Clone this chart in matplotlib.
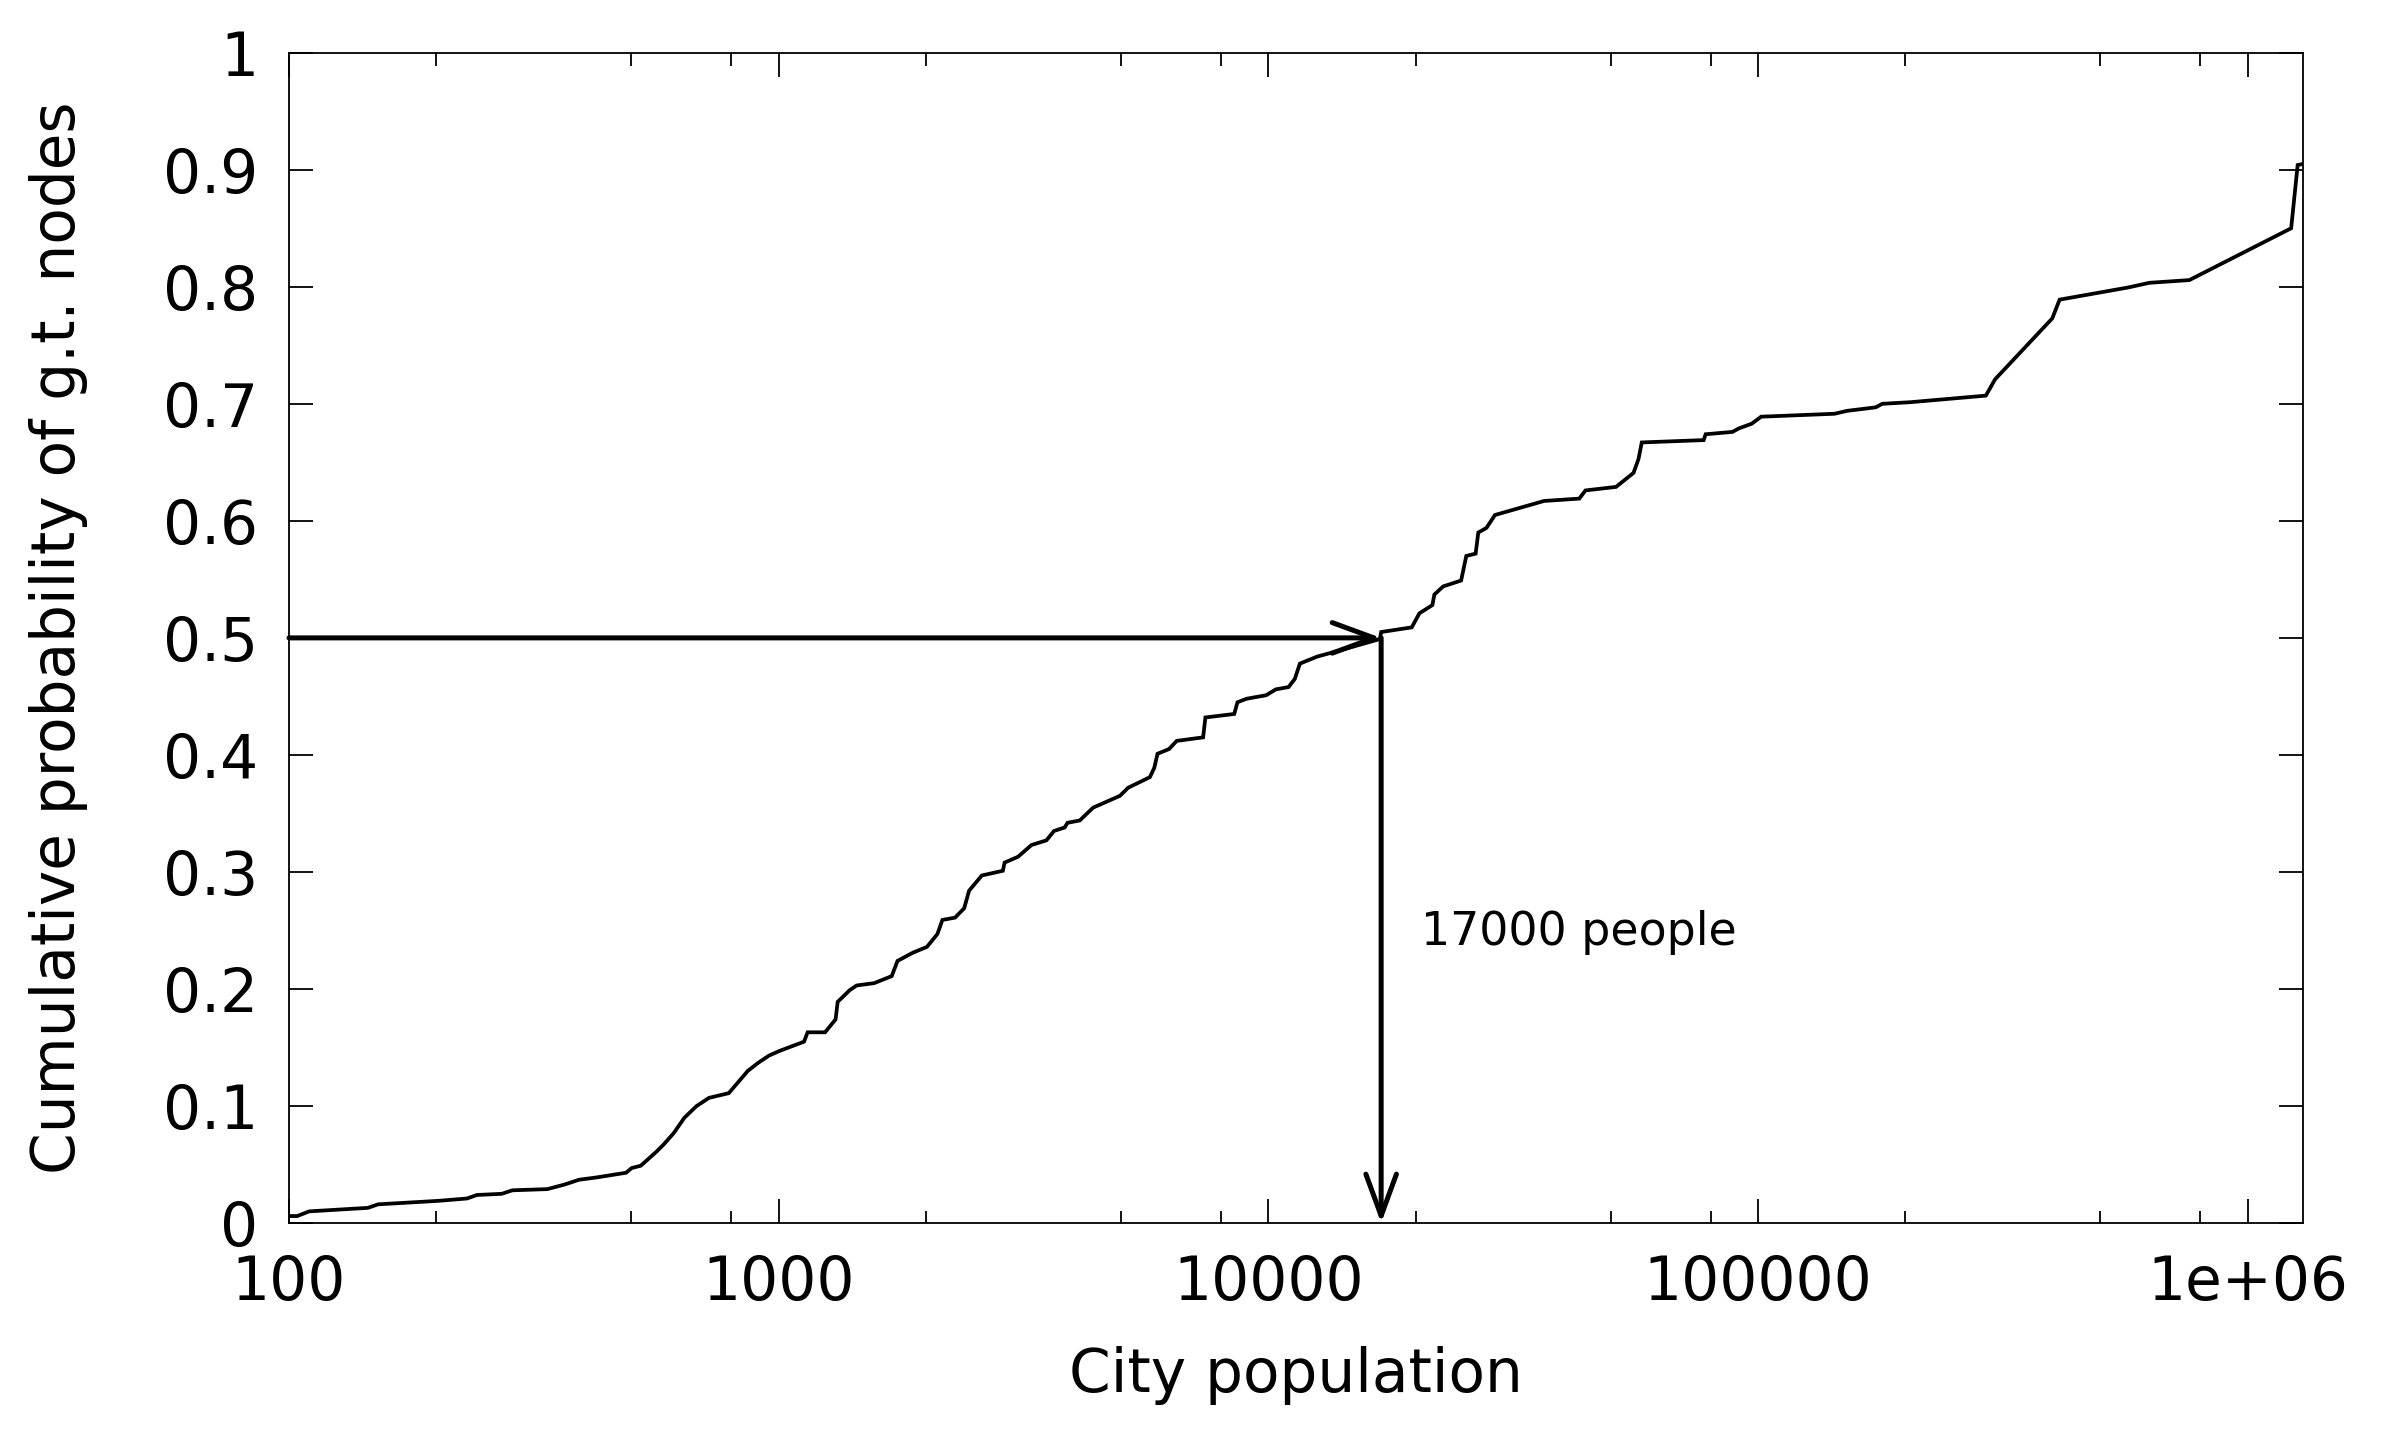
import matplotlib
matplotlib.use("Agg")
import matplotlib.pyplot as plt
from matplotlib.ticker import FixedLocator, FixedFormatter, NullFormatter

# cumulative distribution (city population vs probability)
population = [100, 104, 110, 145, 152, 202, 231, 242, 272, 286, 337, 366, 391, 425,
              488, 501, 523, 563, 582, 611, 642, 680, 721, 791, 837, 865, 909, 955,
              1003, 1127, 1146, 1244, 1307, 1320, 1397, 1443, 1567, 1702, 1749, 1880,
              2009, 2110, 2160, 2293, 2393, 2449, 2600, 2870, 2894, 3083, 3283, 3523,
              3650, 3838, 3890, 4120, 4390, 4975, 5175, 5730, 5850, 5940, 6270, 6500,
              7360, 7440, 8520, 8650, 9030, 9900, 10360, 11000, 11330, 11600, 12580,
              14190, 16900, 17000, 19630, 20350, 21630, 21830, 22760, 24760, 25370,
              26510, 26840, 27900, 29030, 36570, 43150, 44440, 51300, 55700, 57030,
              57900, 77470, 78170, 88700, 91400, 97100, 101500, 143300, 152100,
              174000, 179400, 205000, 292000, 305000, 399000, 413000, 570000, 630000,
              760000, 1227000, 1265000, 1297000]
cum_prob = [0.006, 0.006, 0.010, 0.013, 0.016, 0.019, 0.021, 0.024, 0.025, 0.028,
            0.029, 0.033, 0.037, 0.039, 0.043, 0.047, 0.049, 0.061, 0.067, 0.077,
            0.090, 0.100, 0.107, 0.111, 0.123, 0.130, 0.137, 0.143, 0.147, 0.155,
            0.163, 0.163, 0.174, 0.189, 0.199, 0.203, 0.205, 0.211, 0.224, 0.231,
            0.236, 0.247, 0.259, 0.261, 0.269, 0.284, 0.297, 0.301, 0.308, 0.313,
            0.323, 0.327, 0.335, 0.338, 0.342, 0.344, 0.355, 0.365, 0.372, 0.381,
            0.389, 0.401, 0.405, 0.412, 0.415, 0.432, 0.435, 0.445, 0.448, 0.451,
            0.456, 0.458, 0.465, 0.478, 0.484, 0.490, 0.499, 0.505, 0.509, 0.521,
            0.528, 0.537, 0.544, 0.549, 0.570, 0.572, 0.590, 0.594, 0.605, 0.617,
            0.619, 0.626, 0.629, 0.641, 0.653, 0.667, 0.669, 0.674, 0.676, 0.679,
            0.683, 0.689, 0.6915, 0.694, 0.697, 0.700, 0.7014, 0.707, 0.721, 0.773,
            0.789, 0.7994, 0.8034, 0.8057, 0.850, 0.904, 0.905]

median_pop = 17000
median_prob = 0.5

x_ticks = [100, 1000, 10000, 100000, 1000000]
x_tick_labels = ["100", "1000", "10000", "100000", "1e+06"]
x_minor = [m * d for d in [100, 1000, 10000, 100000] for m in (2, 5, 8)]
y_ticks = [0, 0.1, 0.2, 0.3, 0.4, 0.5, 0.6, 0.7, 0.8, 0.9, 1]
y_tick_labels = ["0", "0.1", "0.2", "0.3", "0.4", "0.5", "0.6", "0.7", "0.8", "0.9", "1"]

fig = plt.figure(figsize=(23.86, 14.44), dpi=100)
ax = fig.add_axes([0.1211, 0.1530, 0.8441, 0.8105])

ax.plot(population, cum_prob, color="black", lw=2.7, solid_joinstyle="miter")

ax.set_xscale("log")
ax.set_xlim(100, 1.297e6)
ax.set_ylim(0, 1)

ax.xaxis.set_major_locator(FixedLocator(x_ticks))
ax.xaxis.set_major_formatter(FixedFormatter(x_tick_labels))
ax.xaxis.set_minor_locator(FixedLocator(x_minor))
ax.xaxis.set_minor_formatter(NullFormatter())
ax.yaxis.set_major_locator(FixedLocator(y_ticks))
ax.yaxis.set_major_formatter(FixedFormatter(y_tick_labels))

ax.tick_params(which="both", direction="in", top=True, right=True, width=1.3,
               labelsize=43, color="black")
ax.tick_params(which="major", length=17)
ax.tick_params(which="minor", length=9)
ax.tick_params(axis="x", pad=22)
ax.tick_params(axis="y", pad=22)
for s in ax.spines.values():
    s.set_linewidth(1.3)

# arrows marking the median
arrow_style = dict(arrowstyle="->,head_length=3.0,head_width=1.1", lw=3.6,
                   color="black", shrinkA=0, shrinkB=0, mutation_scale=10)
ax.annotate("", xy=(median_pop, median_prob), xytext=(100, median_prob),
            arrowprops=arrow_style, annotation_clip=False)
ax.annotate("", xy=(median_pop, 0), xytext=(median_pop, median_prob),
            arrowprops=arrow_style, annotation_clip=False)
ax.text(20500, 0.238, "17000 people", fontsize=33, ha="left", va="baseline")

ax.set_xlabel("City population", fontsize=43)
ax.set_ylabel("Cumulative probability of g.t. nodes", fontsize=43)
ax.xaxis.set_label_coords(0.5, -0.105)
ax.yaxis.set_label_coords(-0.100, 0.5)

fig.savefig("out.png", dpi=100, facecolor="white")
